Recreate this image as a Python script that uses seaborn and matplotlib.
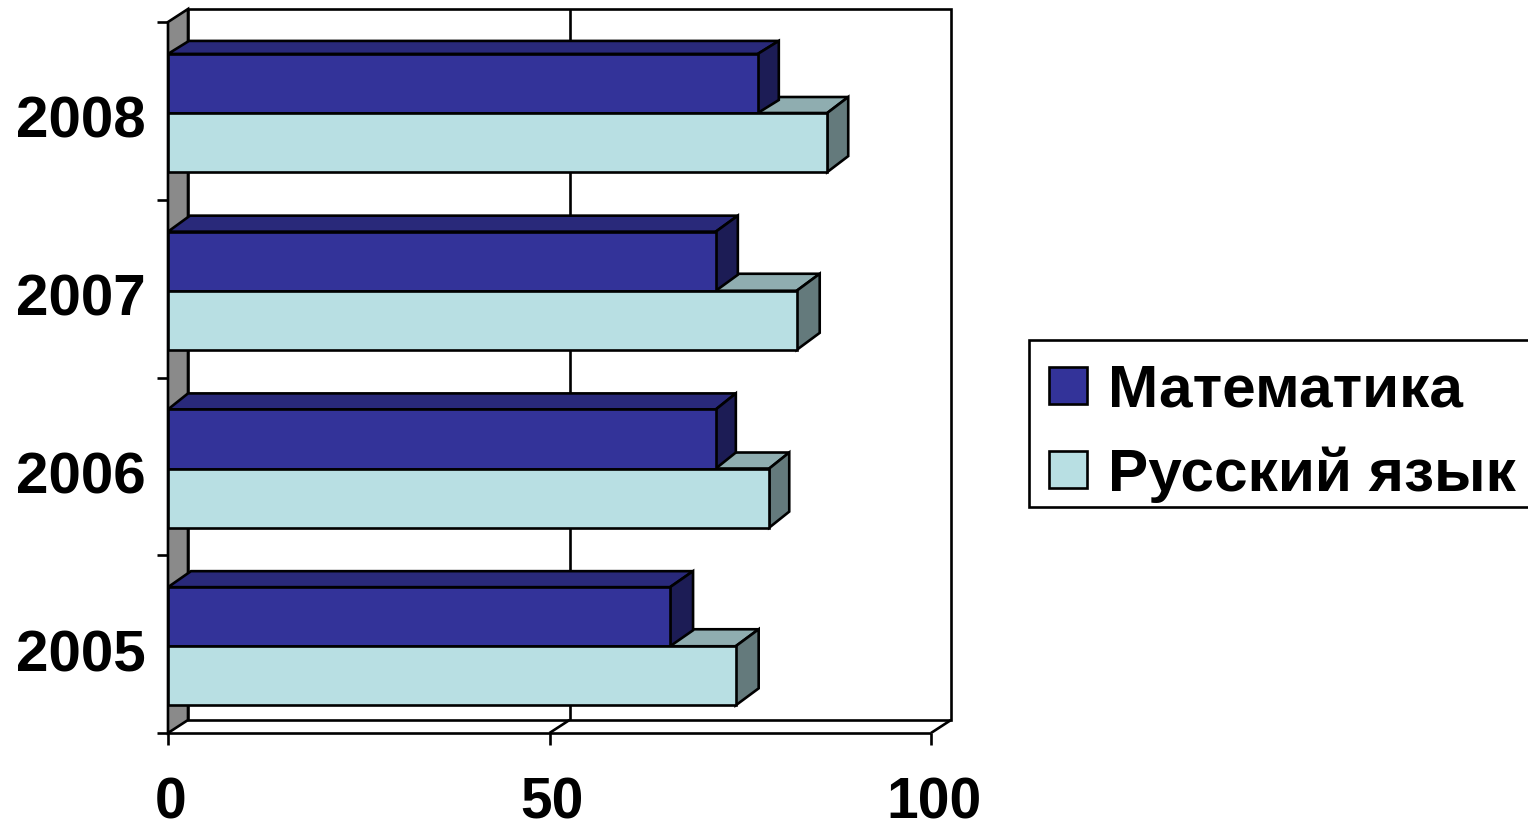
import pandas as pd
import matplotlib
matplotlib.use('Agg')
import matplotlib.pyplot as plt
import seaborn as sns
from matplotlib.patches import Polygon, Rectangle
from matplotlib.lines import Line2D
from matplotlib.transforms import ScaledTranslation

years = ['2008', '2007', '2006', '2005']
math_scores = [77.3, 71.8, 71.8, 65.8]
russian_scores = [86.4, 82.4, 78.8, 74.4]
series_names = ['Математика', 'Русский язык']
x_ticks = [0, 50, 100]

# the original 3d box is a bit uneven, depth in pixels per bar
depth_x = [21, 22, 20, 23, 21, 23, 20, 23]
depth_y = [13, 16, 16, 16, 16, 17, 16, 17]

sns.set_theme(style='white')
plt.rcParams['font.family'] = ['Liberation Sans', 'DejaVu Sans']

W, H = 1528, 825
fig = plt.figure(figsize=(W / 100, H / 100), dpi=100)
ax = fig.add_axes([168 / W, 1 - 733 / H, 763 / W, 711 / H])

df = pd.DataFrame({
    'year': years * 2,
    'score': math_scores + russian_scores,
    'subject': [series_names[0]] * 4 + [series_names[1]] * 4,
})
front = {series_names[0]: '#333399', series_names[1]: '#b8dfe3'}
top = {series_names[0]: '#29297a', series_names[1]: '#8fadb0'}
side = {series_names[0]: '#1c1c55', series_names[1]: '#647a7c'}

lw = 1.9
sns.barplot(data=df, x='score', y='year', hue='subject', order=years, hue_order=series_names,
            palette=front, orient='h', width=0.665, gap=0, saturation=1, edgecolor='black',
            linewidth=lw, ax=ax, zorder=5, legend=False)
ax.set_xlim(0, 100)
ax.set_ylim(3.5, -0.5)

px_x = 100 / 763
px_y = 4 / 711
dx = 20 * px_x
dy = 13 * px_y


def box_line(xs, ys, z=2):
    ax.add_line(Line2D(xs, ys, color='black', lw=lw, clip_on=False, zorder=z, solid_capstyle='butt'))


# left wall, back wall and floor
ax.add_patch(Polygon([(0, 3.5), (dx, 3.5 - dy), (dx, -0.5 - dy), (0, -0.5)], closed=True, fc='#8a8a8a',
                     ec='black', lw=lw, clip_on=False, zorder=1))
ax.add_patch(Rectangle((dx, -0.5 - dy), 100, 4, fc='white', ec='black', lw=lw, clip_on=False, zorder=1))
box_line([0, 100], [3.5, 3.5])
box_line([100, 100 + dx], [3.5, 3.5 - dy])
box_line([50, 50 + dx], [3.5, 3.5 - dy])
box_line([50 + dx, 50 + dx], [3.5 - dy, -0.5 - dy])

# ticks
for t in x_ticks:
    box_line([t, t], [3.5, 3.5 + 0.068])
for i in range(5):
    box_line([-1.45, 0], [i - 0.5, i - 0.5])

# top and side faces of every bar
n = len(years)
for k, bar in enumerate(ax.patches[:2 * n]):
    name = series_names[k // n]
    bar.set_y(bar.get_y() + 0.012)  # bars sit slightly under the tick centre
    x1 = bar.get_width()
    y0, y1 = bar.get_y(), bar.get_y() + bar.get_height()
    bx = depth_x[k] * px_x
    by = depth_y[k] * px_y
    z = 3 if name == series_names[1] else 4
    ax.add_patch(Polygon([(0, y0), (bx, y0 - by), (x1 + bx, y0 - by), (x1, y0)], closed=True, fc=top[name],
                         ec='black', lw=lw, clip_on=False, zorder=z))
    ax.add_patch(Polygon([(x1, y0), (x1 + bx, y0 - by), (x1 + bx, y1 - by), (x1, y1)], closed=True, fc=side[name],
                         ec='black', lw=lw, clip_on=False, zorder=z))

ax.set_xticks(x_ticks)
ax.set_yticks(range(n))
ax.set_yticklabels(years, fontsize=42, fontweight='bold', color='black')
ax.set_xticklabels([str(t) for t in x_ticks], fontsize=41, fontweight='bold', color='black')
ax.tick_params(axis='both', length=0)
ax.tick_params(axis='y', pad=16)
ax.tick_params(axis='x', pad=31.5)
ax.set_xlabel('')
ax.set_ylabel('')
for s in ax.spines.values():
    s.set_visible(False)
ax.patch.set_alpha(0)

# year labels sit a few pixels below the category centre
shift = ScaledTranslation(0, -6 / 100, fig.dpi_scale_trans)
for label in ax.get_yticklabels():
    label.set_transform(label.get_transform() + shift)
shift_x = ScaledTranslation(3 / 100, 0, fig.dpi_scale_trans)
for label in ax.get_xticklabels():
    label.set_transform(label.get_transform() + shift_x)

# legend box is drawn by hand so the tight padding can match
fig.add_artist(Rectangle((1029 / W, 1 - 507 / H), 520 / W, 167 / H, transform=fig.transFigure,
                         fc='white', ec='black', lw=lw))
handles = [Rectangle((0, 0), 1, 1, fc=front[s], ec='black', lw=lw) for s in series_names]
leg = fig.legend(handles, series_names, loc='upper left', bbox_to_anchor=(1049 / W, 1 - 364 / H),
                 frameon=False, handlelength=0.63, handleheight=0.56, handletextpad=0.35,
                 labelspacing=0.45, borderpad=0, borderaxespad=0, labelcolor='black',
                 prop={'weight': 'bold', 'size': 43.5})
leg.set_zorder(5)

fig.savefig('out.png', dpi=100)
